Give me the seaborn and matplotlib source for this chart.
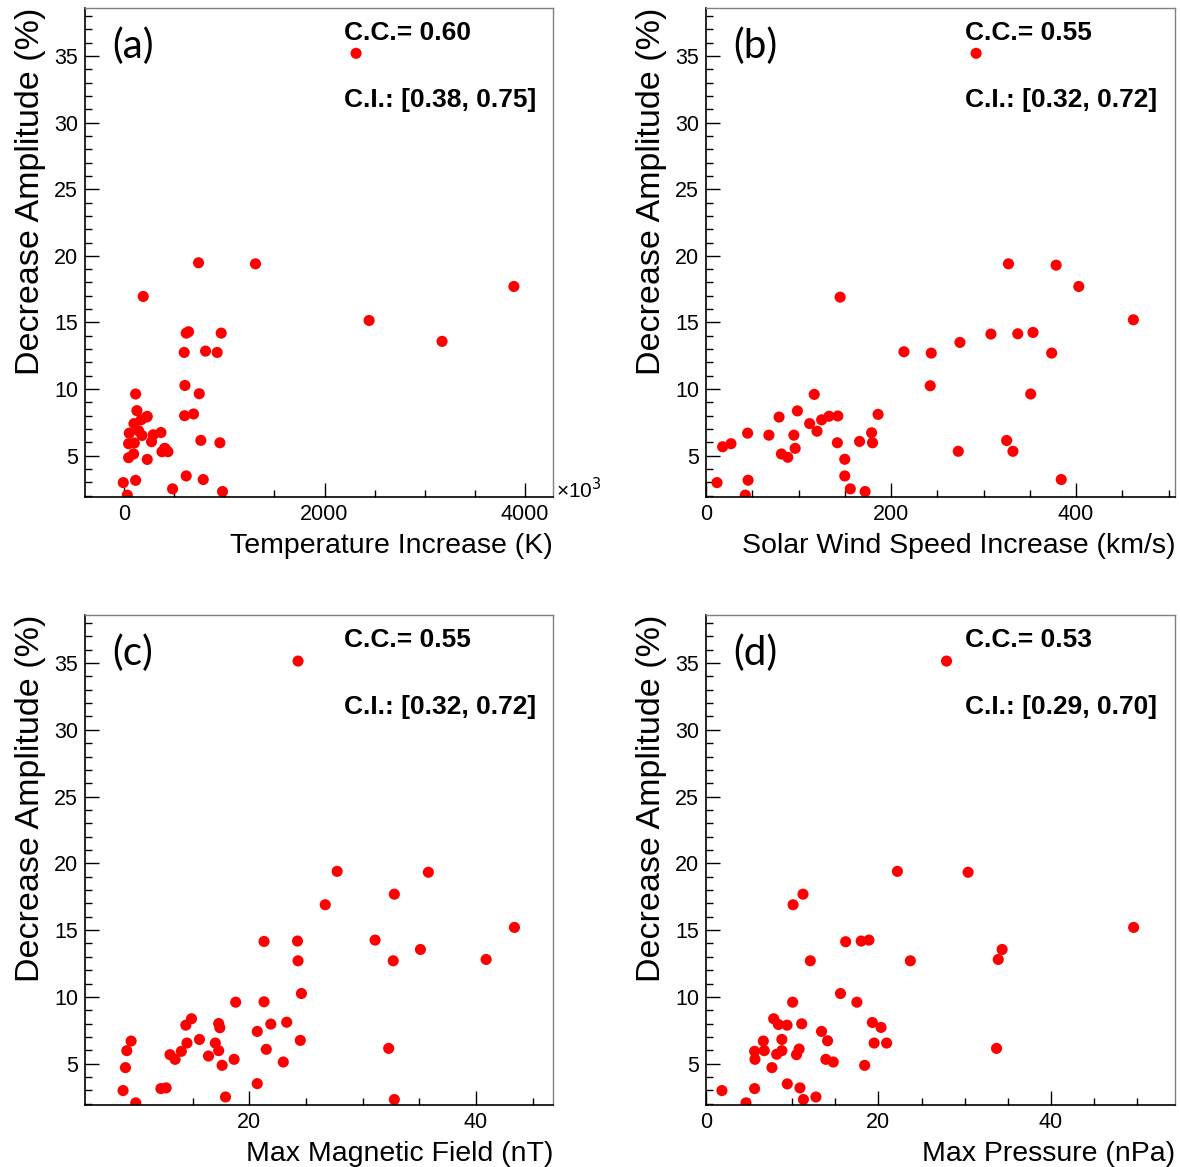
import matplotlib
matplotlib.use('Agg')
import matplotlib.pyplot as plt
import seaborn as sns
from matplotlib.ticker import MultipleLocator

# --- Data ---

# (a) temperature increase (axis shown x10^3) vs decrease amplitude
temp_x = [743, 1311, 191, 620, 643, 969, 600, 813, 929, 607, 115, 750, 128, 604, 693,
          171, 231, 225, 99, 52, 145, 178, 291, 368, 274, 45, 102, 766, 956, 95, 45,
          378, 411, 438, 405, 231, -8, 115, 620, 790, 484, 982, 32, 2315, 2445, 3173, 3890]
temp_y = [19.48, 19.4, 16.95, 14.2, 14.3, 14.2, 12.75, 12.85, 12.75, 10.27, 9.63, 9.65, 8.38, 8.0, 8.13,
          7.7, 7.95, 7.9, 7.41, 6.69, 6.87, 6.52, 6.57, 6.74, 6.05, 5.9, 5.95, 6.15, 5.97, 5.13, 4.85,
          5.3, 5.52, 5.3, 5.55, 4.72, 2.98, 3.15, 3.48, 3.21, 2.51, 2.31, 2.04, 35.2, 15.15, 13.58, 17.7]

# (b) solar wind speed increase
wind_x = [327, 378.5, 403, 145, 462, 308, 337, 353.5, 274.5, 214, 243.5, 373.7, 242.4, 351, 117,
          79, 98.8, 112, 125, 133, 142.5, 186, 45, 68, 95, 120, 179, 18, 27, 142, 166, 180,
          325, 81.5, 88.4, 96.4, 150, 272.7, 331.8, 11.9, 45.5, 150, 384, 156, 172, 42.5, 292]
wind_y = [19.4, 19.3, 17.7, 16.9, 15.2, 14.13, 14.15, 14.25, 13.5, 12.8, 12.7, 12.7, 10.25, 9.63, 9.6,
          7.9, 8.36, 7.41, 7.69, 7.96, 7.98, 8.1, 6.69, 6.54, 6.54, 6.84, 6.72, 5.67, 5.9, 5.97, 6.07, 5.97,
          6.14, 5.13, 4.88, 5.55, 4.73, 5.33, 5.33, 2.98, 3.16, 3.48, 3.21, 2.51, 2.31, 2.04, 35.2]

# (c) max magnetic field
mag_x = [27.75, 35.8, 32.8, 26.7, 43.4, 21.3, 24.25, 31.1, 35.1, 24.3, 32.7, 40.9, 24.6, 18.8, 21.3,
         14.9, 14.4, 17.3, 17.4, 21.9, 23.3, 20.7, 9.57, 14.5, 15.6, 17.0, 24.5, 9.19, 14.0, 17.3,
         21.5, 32.3, 13.0, 13.45, 16.4, 18.66, 23.0, 9.07, 17.6, 8.86, 12.2, 12.66, 20.7, 17.9, 32.8,
         9.98, 24.3]
mag_y = [19.4, 19.33, 17.69, 16.9, 15.2, 14.15, 14.18, 14.25, 13.55, 12.7, 12.7, 12.8, 10.25, 9.6, 9.63,
         8.36, 7.88, 8.0, 7.69, 7.96, 8.1, 7.41, 6.69, 6.54, 6.81, 6.54, 6.74, 5.97, 5.92, 5.97,
         6.07, 6.14, 5.67, 5.32, 5.57, 5.32, 5.12, 4.70, 4.87, 2.98, 3.13, 3.18, 3.5, 2.5, 2.31,
         2.06, 35.15]

# (d) max pressure
pres_x = [22.2, 30.4, 11.25, 10.1, 49.6, 16.2, 18.0, 18.9, 34.35, 12.1, 23.7, 33.9, 15.6, 10.05, 17.5,
          7.85, 8.4, 9.4, 11.1, 19.3, 20.3, 13.4, 6.65, 8.8, 14.1, 19.5, 20.95, 5.64, 6.76, 8.8,
          10.8, 33.7, 8.2, 10.5, 5.68, 13.9, 14.76, 7.65, 18.4, 1.85, 5.64, 9.43, 10.9, 12.75, 11.3,
          4.64, 27.9]
pres_y = [19.4, 19.33, 17.69, 16.9, 15.2, 14.13, 14.18, 14.25, 13.55, 12.7, 12.7, 12.8, 10.25, 9.6, 9.6,
          8.36, 7.93, 7.88, 7.98, 8.08, 7.71, 7.41, 6.69, 6.81, 6.71, 6.54, 6.54, 5.92, 5.97, 5.97,
          6.09, 6.14, 5.7, 5.67, 5.32, 5.32, 5.12, 4.70, 4.87, 2.98, 3.13, 3.48, 3.18, 2.5, 2.31,
          2.06, 35.15]

panels = [
    ("(a)", temp_x, temp_y, "Temperature Increase (K)", "C.C.= 0.60", "C.I.: [0.38, 0.75]",
     (-390, 4280), 2000, 500),
    ("(b)", wind_x, wind_y, "Solar Wind Speed Increase (km/s)", "C.C.= 0.55", "C.I.: [0.32, 0.72]",
     (0, 507), 200, 50),
    ("(c)", mag_x, mag_y, "Max Magnetic Field (nT)", "C.C.= 0.55", "C.I.: [0.32, 0.72]",
     (5.5, 46.8), 20, 5),
    ("(d)", pres_x, pres_y, "Max Pressure (nPa)", "C.C.= 0.53", "C.I.: [0.29, 0.70]",
     (0, 54.4), 20, 5),
]

sns.set_style("ticks")
plt.rcParams['font.family'] = ['Liberation Sans', 'DejaVu Sans']
plt.rcParams['text.color'] = 'black'
plt.rcParams['axes.labelcolor'] = 'black'
plt.rcParams['xtick.color'] = 'black'
plt.rcParams['ytick.color'] = 'black'

W, H = 1180, 1167
fig = plt.figure(figsize=(W / 100, H / 100), dpi=100)

# axes boxes in pixels: left, top, right, bottom
boxes = [(85, 8, 553, 497), (706, 8, 1175, 497), (85, 615, 553, 1105), (706, 615, 1175, 1105)]

for (letter, xs, ys, xlabel, cc, ci, xlim, xmaj, xmin), (l, t, r, b) in zip(panels, boxes):
    ax = fig.add_axes([l / W, 1 - b / H, (r - l) / W, (b - t) / H])
    sns.scatterplot(x=xs, y=ys, ax=ax, color='#ff0000', s=64, edgecolor='none', linewidth=0)

    ax.set_xlim(*xlim)
    ax.set_ylim(1.9, 38.6)
    ax.xaxis.set_major_locator(MultipleLocator(xmaj))
    ax.xaxis.set_minor_locator(MultipleLocator(xmin))
    ax.yaxis.set_major_locator(MultipleLocator(5))
    ax.yaxis.set_minor_locator(MultipleLocator(1))

    ax.tick_params(which='both', direction='in', top=False, right=False, labelsize=15.5,
                   color='black', labelcolor='black', width=1)
    ax.tick_params(which='major', length=10)
    ax.tick_params(which='minor', length=5)
    ax.tick_params(axis='y', which='major', pad=5)
    ax.tick_params(axis='x', which='major', pad=5)

    for side in ['left', 'bottom']:
        ax.spines[side].set_color('black')
        ax.spines[side].set_linewidth(1.2)
    for side in ['top', 'right']:
        ax.spines[side].set_color('#808080')
        ax.spines[side].set_linewidth(1.0)

    ax.set_xlabel(xlabel, loc='right', fontsize=20.5, labelpad=6, color='black')
    ax.set_ylabel("Decrease Amplitude (%)", loc='top', fontsize=24.5, labelpad=6, color='black')

    ax.text(0.058, 0.922, letter, transform=ax.transAxes, fontsize=29,
            family=['Lato', 'DejaVu Sans'], ha='left', va='center', color='black')
    ax.text(0.553, 0.949, cc, transform=ax.transAxes, fontsize=19,
            fontweight='bold', ha='left', va='center', color='black')
    ax.text(0.553, 0.812, ci, transform=ax.transAxes, fontsize=19,
            fontweight='bold', ha='left', va='center', color='black')

    if letter == "(a)":
        ax.text(1.006, 0.016, "×10$^3$", transform=ax.transAxes, fontsize=15,
                ha='left', va='center', color='black')

fig.savefig('out.png', dpi=100)
